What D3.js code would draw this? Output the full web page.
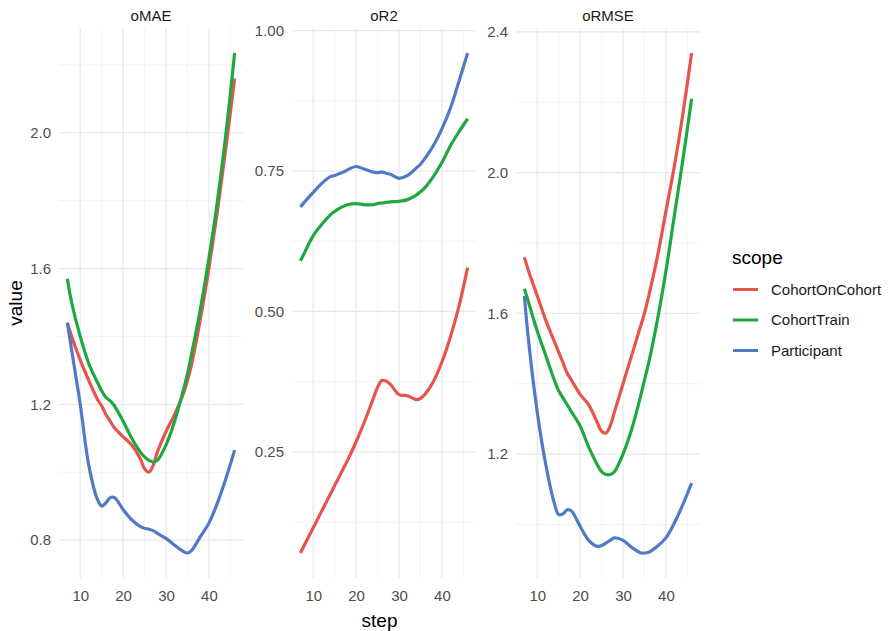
<!DOCTYPE html>
<html>
<head>
<meta charset="utf-8">
<script src="https://cdn.jsdelivr.net/npm/d3@7"></script>
<style>
  body { margin: 0; background: #fff; }
  text { font-family: "Liberation Sans", Arial, sans-serif; }
</style>
</head>
<body>
<div id="chart"></div>
<script>
// smoothed curves, one value per step
var steps = [7, 8, 10, 12, 14, 15, 16, 17, 18, 20, 22, 24, 25, 26, 27, 28, 30, 32, 34, 35, 36, 38, 40, 42, 44, 46];

var maeCohortOnCohort = [1.44, 1.40, 1.33, 1.27, 1.215, 1.195, 1.17, 1.15, 1.13, 1.105, 1.08, 1.04, 1.01, 1.0, 1.02, 1.06, 1.12, 1.17, 1.23, 1.27, 1.32, 1.45, 1.60, 1.77, 1.96, 2.16];
var maeCohortTrain     = [1.57, 1.50, 1.40, 1.32, 1.265, 1.24, 1.22, 1.21, 1.195, 1.15, 1.10, 1.06, 1.045, 1.035, 1.03, 1.035, 1.08, 1.15, 1.24, 1.29, 1.35, 1.48, 1.63, 1.80, 2.00, 2.235];
var maeParticipant     = [1.44, 1.36, 1.20, 1.02, 0.92, 0.90, 0.91, 0.925, 0.925, 0.89, 0.86, 0.84, 0.835, 0.832, 0.828, 0.82, 0.805, 0.785, 0.767, 0.762, 0.77, 0.81, 0.85, 0.91, 0.983, 1.065];

var r2CohortOnCohort = [0.07, 0.085, 0.115, 0.145, 0.175, 0.19, 0.205, 0.22, 0.235, 0.268, 0.305, 0.345, 0.365, 0.377, 0.376, 0.37, 0.352, 0.35, 0.343, 0.345, 0.352, 0.375, 0.41, 0.455, 0.51, 0.578];
var r2CohortTrain     = [0.59, 0.605, 0.635, 0.655, 0.672, 0.678, 0.683, 0.687, 0.69, 0.692, 0.69, 0.69, 0.692, 0.693, 0.694, 0.695, 0.696, 0.699, 0.707, 0.713, 0.72, 0.74, 0.765, 0.795, 0.82, 0.843];
var r2Participant     = [0.686, 0.695, 0.712, 0.728, 0.74, 0.742, 0.745, 0.748, 0.752, 0.758, 0.753, 0.748, 0.747, 0.748, 0.746, 0.744, 0.737, 0.742, 0.755, 0.762, 0.772, 0.795, 0.825, 0.862, 0.91, 0.96];

var rmseCohortOnCohort = [1.76, 1.72, 1.65, 1.58, 1.52, 1.49, 1.46, 1.43, 1.41, 1.37, 1.34, 1.29, 1.265, 1.26, 1.28, 1.32, 1.40, 1.48, 1.56, 1.60, 1.65, 1.76, 1.89, 2.02, 2.17, 2.34];
var rmseCohortTrain     = [1.67, 1.63, 1.55, 1.48, 1.41, 1.38, 1.36, 1.34, 1.32, 1.28, 1.22, 1.17, 1.15, 1.142, 1.142, 1.15, 1.20, 1.27, 1.36, 1.41, 1.46, 1.58, 1.72, 1.88, 2.04, 2.21];
var rmseParticipant     = [1.65, 1.52, 1.32, 1.17, 1.06, 1.028, 1.03, 1.042, 1.038, 0.995, 0.955, 0.938, 0.94, 0.947, 0.955, 0.962, 0.955, 0.935, 0.92, 0.919, 0.921, 0.938, 0.962, 1.005, 1.058, 1.118];

var scopes = ["CohortOnCohort", "CohortTrain", "Participant"];
var scopeColors = ["#E8534C", "#1FA83F", "#5079C6"];

var facetNames = ["oMAE", "oR2", "oRMSE"];
var yMajor = [[0.8, 1.2, 1.6, 2.0], [0.25, 0.5, 0.75, 1.0], [1.2, 1.6, 2.0, 2.4]];
var yMinor = [[1.0, 1.4, 1.8, 2.2], [0.125, 0.375, 0.625, 0.875], [1.0, 1.4, 1.8, 2.2]];
var yFormat = [".1f", ".2f", ".1f"];
var xMajor = [10, 20, 30, 40];
var xMinor = [15, 25, 35, 45];

var facets = [
  [maeCohortOnCohort, maeCohortTrain, maeParticipant],
  [r2CohortOnCohort, r2CohortTrain, r2Participant],
  [rmseCohortOnCohort, rmseCohortTrain, rmseParticipant]
];

var W = 890, H = 631;
var panelTop = 28, panelBottom = 578;
var panelH = panelBottom - panelTop;
var panelW = 184;
var panelLeft = [59, 292, 516];

var svg = d3.select("#chart").append("svg").attr("width", W).attr("height", H);

// ggplot style 5% expansion
function expand(ext) {
  var r = ext[1] - ext[0];
  return [ext[0] - r * 0.05, ext[1] + r * 0.05];
}

var x = d3.scaleLinear().domain(expand(d3.extent(steps))).range([0, panelW]);

facets.forEach(function(series, fi) {
  var all = d3.merge(series);
  var y = d3.scaleLinear().domain(expand(d3.extent(all))).range([panelH, 0]);
  var g = svg.append("g").attr("transform", "translate(" + panelLeft[fi] + "," + panelTop + ")");

  // grid
  g.selectAll("line.ymin").data(yMinor[fi].filter(function(v) { return v > y.domain()[0] && v < y.domain()[1]; }))
    .enter().append("line").attr("class", "ymin")
    .attr("x1", 0).attr("x2", panelW)
    .attr("y1", function(d) { return y(d); }).attr("y2", function(d) { return y(d); })
    .attr("stroke", "#ececec").attr("stroke-width", 0.6);
  g.selectAll("line.xmin").data(xMinor)
    .enter().append("line").attr("class", "xmin")
    .attr("y1", 0).attr("y2", panelH)
    .attr("x1", function(d) { return x(d); }).attr("x2", function(d) { return x(d); })
    .attr("stroke", "#ececec").attr("stroke-width", 0.6);
  g.selectAll("line.ymaj").data(yMajor[fi])
    .enter().append("line").attr("class", "ymaj")
    .attr("x1", 0).attr("x2", panelW)
    .attr("y1", function(d) { return y(d); }).attr("y2", function(d) { return y(d); })
    .attr("stroke", "#e8e8e8").attr("stroke-width", 1.2);
  g.selectAll("line.xmaj").data(xMajor)
    .enter().append("line").attr("class", "xmaj")
    .attr("y1", 0).attr("y2", panelH)
    .attr("x1", function(d) { return x(d); }).attr("x2", function(d) { return x(d); })
    .attr("stroke", "#e8e8e8").attr("stroke-width", 1.2);

  // axes
  var ya = g.append("g").call(d3.axisLeft(y).tickValues(yMajor[fi]).tickFormat(d3.format(yFormat[fi])).tickSize(0).tickPadding(8));
  var xa = g.append("g").attr("transform", "translate(0," + panelH + ")")
    .call(d3.axisBottom(x).tickValues(xMajor).tickSize(0).tickPadding(12));
  [ya, xa].forEach(function(a) {
    a.select(".domain").remove();
    a.selectAll("text").attr("fill", "#4d4d4d").style("font-size", "15px").style("font-family", '"Liberation Sans", Arial, sans-serif');
  });

  // strip
  svg.append("text").attr("x", panelLeft[fi] + panelW / 2).attr("y", 16).attr("dy", "0.35em")
    .attr("text-anchor", "middle").attr("fill", "#1a1a1a").style("font-size", "15px")
    .text(facetNames[fi]);

  var line = d3.line()
    .x(function(d, i) { return x(steps[i]); })
    .y(function(d) { return y(d); })
    .curve(d3.curveCatmullRom.alpha(0.5));

  g.selectAll("path.series").data(series).enter().append("path").attr("class", "series")
    .attr("d", line).attr("fill", "none")
    .attr("stroke", function(d, i) { return scopeColors[i]; })
    .attr("stroke-width", 3.2).attr("stroke-linejoin", "round").attr("stroke-linecap", "butt");
});

// axis titles
svg.append("text").attr("x", (panelLeft[0] + panelLeft[2] + panelW) / 2).attr("y", 620).attr("dy", "0.35em")
  .attr("text-anchor", "middle").attr("fill", "#000").style("font-size", "19px").text("step");
svg.append("text").attr("transform", "translate(15," + ((panelTop + panelBottom) / 2) + ") rotate(-90)").attr("dy", "0.35em")
  .attr("text-anchor", "middle").attr("fill", "#000").style("font-size", "19px").text("value");

// legend
var lg = svg.append("g").attr("transform", "translate(732,0)");
lg.append("text").attr("x", 0).attr("y", 257).attr("dy", "0.35em").attr("fill", "#000")
  .style("font-size", "19px").text("scope");
var item = lg.selectAll("g.item").data(scopes).enter().append("g").attr("class", "item")
  .attr("transform", function(d, i) { return "translate(0," + (289.5 + i * 30.5) + ")"; });
item.append("line").attr("x1", 1).attr("x2", 26).attr("y1", 0).attr("y2", 0)
  .attr("stroke", function(d, i) { return scopeColors[i]; }).attr("stroke-width", 3);
item.append("text").attr("x", 39).attr("dy", "0.35em").attr("fill", "#1a1a1a")
  .style("font-size", "15px").text(function(d) { return d; });
</script>
</body>
</html>
